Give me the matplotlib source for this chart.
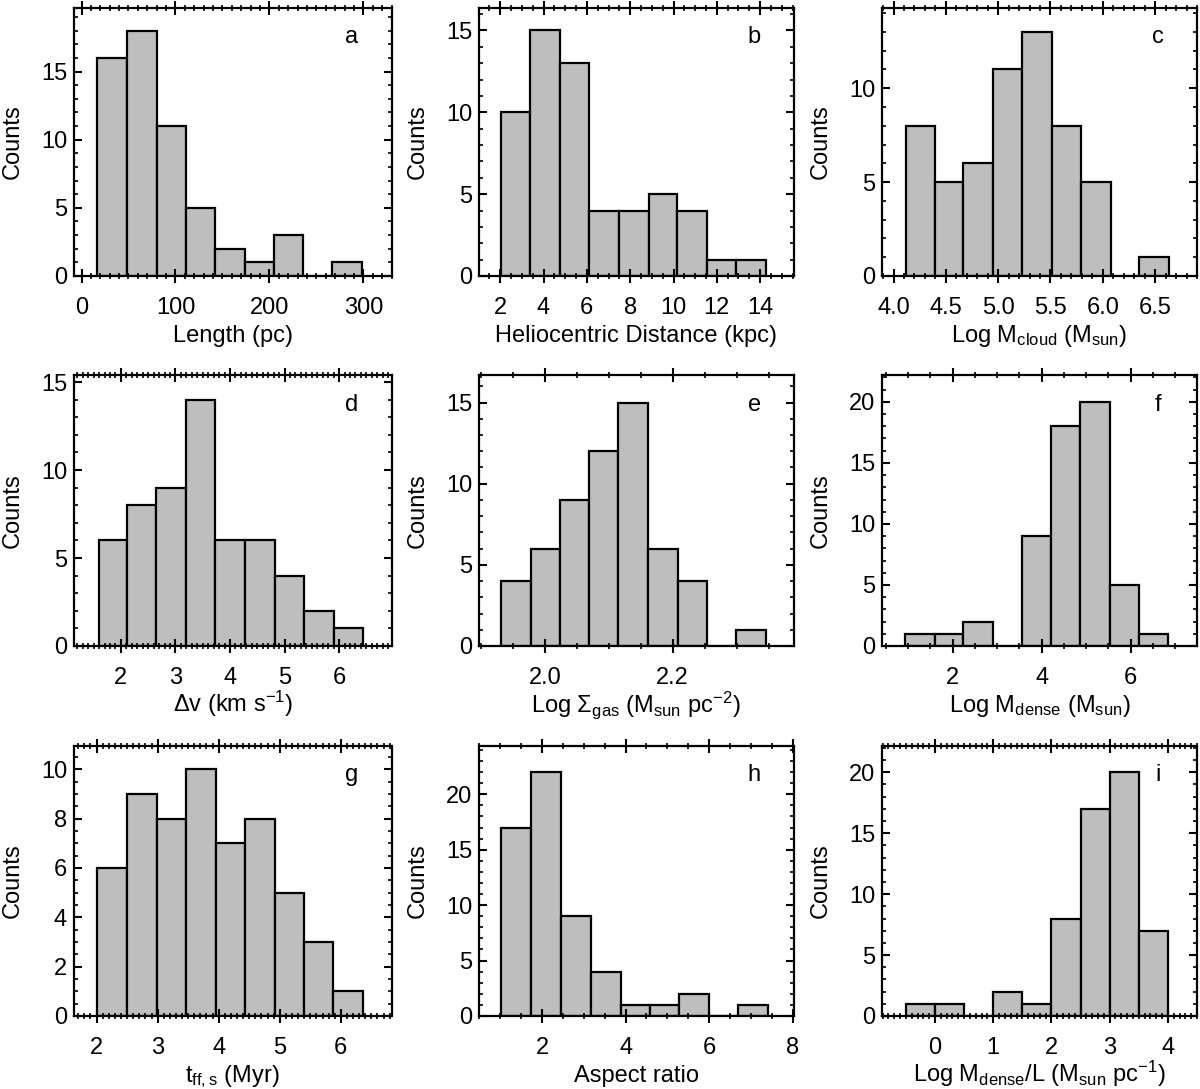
import numpy as np
import matplotlib
matplotlib.use("Agg")
import matplotlib.pyplot as plt
from matplotlib.ticker import MultipleLocator, AutoMinorLocator

plt.rcParams['font.family'] = ['Liberation Sans', 'DejaVu Sans']
plt.rcParams['mathtext.fontset'] = 'custom'
plt.rcParams['mathtext.rm'] = 'Liberation Sans'
plt.rcParams['mathtext.it'] = 'Liberation Sans:italic'
plt.rcParams['font.size'] = 17

# bin edges and counts
length_edges = [17, 48.2, 80, 110.8, 142, 173.8, 204.6, 235.7, 266.9, 298.3]
length_counts = [16, 18, 11, 5, 2, 1, 3, 0, 1]

dist_edges = [2.03, 3.38, 4.77, 6.12, 7.48, 8.85, 10.18, 11.54, 12.89, 14.28]
dist_counts = [10, 15, 13, 4, 4, 5, 4, 1, 1]

mcloud_edges = [4.115, 4.395, 4.668, 4.948, 5.229, 5.512, 5.792, 6.076, 6.349, 6.636]
mcloud_counts = [8, 5, 6, 11, 13, 8, 5, 0, 1]

dv_edges = [1.59, 2.11, 2.65, 3.19, 3.73, 4.27, 4.82, 5.36, 5.90, 6.43]
dv_counts = [6, 8, 9, 14, 6, 6, 4, 2, 1]

sigma_edges = [1.931, 1.978, 2.024, 2.069, 2.115, 2.162, 2.208, 2.253, 2.299, 2.346]
sigma_counts = [4, 6, 9, 12, 15, 6, 4, 0, 1]

mdense_edges = [0.93, 1.59, 2.24, 2.91, 3.56, 4.21, 4.87, 5.53, 6.19, 6.84]
mdense_counts = [1, 1, 2, 0, 9, 18, 20, 5, 1]

tff_edges = [2.01, 2.49, 2.99, 3.46, 3.95, 4.43, 4.92, 5.40, 5.88, 6.36]
tff_counts = [6, 9, 8, 10, 7, 8, 5, 3, 1]

aspect_edges = [1.01, 1.73, 2.46, 3.17, 3.88, 4.58, 5.28, 5.99, 6.69, 7.42]
aspect_counts = [17, 22, 9, 4, 1, 1, 2, 0, 1]

mline_edges = [-0.5, 0, 0.5, 1.0, 1.5, 2.0, 2.5, 3.0, 3.5, 4.0]
mline_counts = [1, 1, 0, 2, 1, 8, 17, 20, 7]

panels = [
    ('a', length_edges, length_counts, 'Length (pc)', (-8, 330), 19.7, 100, 10, 5, 5),
    ('b', dist_edges, dist_counts, 'Heliocentric Distance (kpc)', (1.02, 15.54), 16.4, 2, 4, 5, 5),
    ('c', mcloud_edges, mcloud_counts, r'Log M$_{\rm cloud}$ (M$_{\rm sun}$)', (3.89, 6.90), 14.3, 0.5, 5, 5, 5),
    ('d', dv_edges, dv_counts, r'Δv (km s$^{-1}$)', (1.14, 6.96), 15.4, 1, 10, 5, 5),
    ('e', sigma_edges, sigma_counts, r'Log Σ$_{\rm gas}$ (M$_{\rm sun}$ pc$^{-2}$)', (1.897, 2.389), 16.7, 0.2, 4, 5, 5),
    ('f', mdense_edges, mdense_counts, r'Log M$_{\rm dense}$ (M$_{\rm sun}$)', (0.41, 7.49), 22.2, 2, 4, 5, 5),
    ('g', tff_edges, tff_counts, r't$_{\rm ff,s}$ (Myr)', (1.63, 6.83), 10.96, 1, 10, 2, 4),
    ('h', aspect_edges, aspect_counts, 'Aspect ratio', (0.49, 8.02), 24.4, 2, 4, 5, 5),
    ('i', mline_edges, mline_counts, r'Log M$_{\rm dense}$/L (M$_{\rm sun}$ pc$^{-1}$)', (-0.91, 4.50), 22.2, 1, 10, 5, 5),
]

W, H = 1200, 1089
col_x = [(74, 391.5), (479, 793.5), (882, 1197)]
row_y = [(7.5, 276), (375, 646), (745.5, 1016)]

fig = plt.figure(figsize=(W / 100, H / 100), dpi=100)

for k, (letter, edges, counts, xlabel, xlim, ytop, xmaj, xmin_n, ymaj, ymin_n) in enumerate(panels):
    r, c = divmod(k, 3)
    x0, x1 = col_x[c]
    y0, y1 = row_y[r]
    ax = fig.add_axes([x0 / W, 1 - y1 / H, (x1 - x0) / W, (y1 - y0) / H])
    edges = np.array(edges)
    ax.bar(edges[:-1], counts, width=np.diff(edges), align='edge',
           color='#bebebe', edgecolor='black', linewidth=1.6)
    ax.set_xlim(*xlim)
    ax.set_ylim(0, ytop)
    ax.xaxis.set_major_locator(MultipleLocator(xmaj))
    ax.xaxis.set_minor_locator(AutoMinorLocator(xmin_n))
    ax.yaxis.set_major_locator(MultipleLocator(ymaj))
    ax.yaxis.set_minor_locator(AutoMinorLocator(ymin_n))
    ax.tick_params(axis='x', which='both', direction='inout', top=True, bottom=True)
    ax.tick_params(axis='x', which='major', length=10, width=1.5, pad=10)
    ax.tick_params(axis='x', which='minor', length=5, width=1.2)
    ax.tick_params(axis='y', which='both', direction='in', left=True, right=True)
    ax.tick_params(axis='y', which='major', length=6, width=1.5, pad=5)
    ax.tick_params(axis='y', which='minor', length=3, width=1.2)
    for s in ax.spines.values():
        s.set_linewidth(1.6)
    ax.set_xlabel(xlabel)
    ax.set_ylabel('Counts')
    ax.xaxis.set_label_coords(0.5, -66 / (y1 - y0))
    ax.xaxis.label.set_va('baseline')
    ax.yaxis.set_label_coords(-61 / (x1 - x0), 0.5)
    ax.yaxis.label.set_va('center')
    ax.text(0.875, 0.89, letter, transform=ax.transAxes, ha='center', va='center')

fig.savefig('out.png', dpi=100)
